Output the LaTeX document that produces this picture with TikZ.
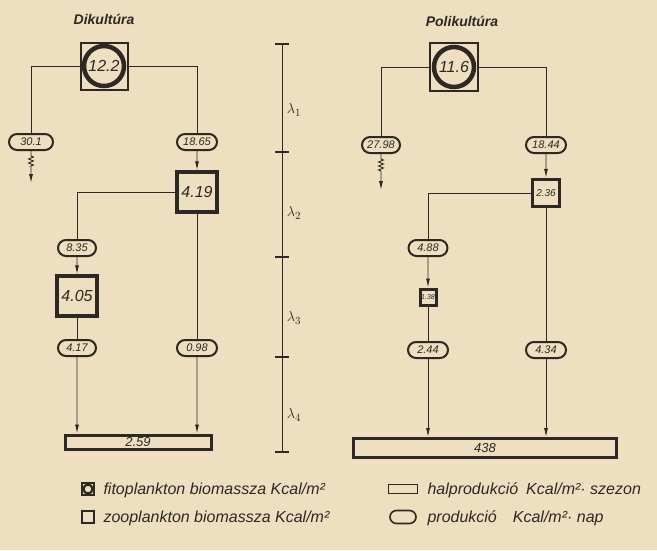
\documentclass[tikz,border=0pt]{standalone}
\usepackage{fontspec}
\setmainfont{Liberation Sans}
\usetikzlibrary{arrows.meta,shapes.misc,decorations.pathmorphing}
\definecolor{paper}{RGB}{237,223,191}
\definecolor{ink}{RGB}{45,40,36}

\begin{document}
\begin{tikzpicture}[x=1pt,y=-1pt,ink,font=\itshape,
	fitobox/.style={draw,line width=2pt,minimum size=#1,inner sep=0pt},
	fitocirc/.style={draw,circle,line width=4.5pt,minimum size=#1,inner sep=0pt,font=\itshape\fontsize{16}{16}\selectfont},
	zoobox/.style={draw,line width=3.5pt,minimum size=#1,inner sep=0pt,font=\itshape\fontsize{16}{16}\selectfont},
	halbox/.style={draw,line width=3pt,minimum width=#1,inner sep=0pt,font=\itshape\fontsize{13}{13}\selectfont},
	prod/.style={draw,rounded rectangle,line width=2pt,minimum width=#1,minimum height=16pt,inner sep=0pt,font=\itshape\fontsize{11}{11}\selectfont},
	flow/.style={line width=0.9pt},
	arr/.style={flow,-{Latex[length=9pt,width=4pt]}},
	loss/.style={arr,decoration={zigzag,segment length=4pt,amplitude=2.5pt}},
	legtext/.style={anchor=west,font=\itshape\fontsize{16}{16}\selectfont}]

	\fill[paper] (0,0) rectangle (657,550);

	%Dikultura
	\node[font=\itshape\bfseries\fontsize{14}{14}\selectfont] (t1) at (104,19) {Dikultúra};
	\node[fitobox=47pt] (f1) at (104,66) {};
	\node[fitocirc=40pt] (f1c) at (f1) {12.2};
	\node[prod=44pt] (p301) at (31,142) {30.1};
	\node[prod=40pt] (p1865) at (197,142) {18.65};
	\node[zoobox=40pt] (z419) at (197,192) {4.19};
	\node[prod=38pt] (p835) at (77,248) {8.35};
	\node[zoobox=40pt] (z405) at (77,296) {4.05};
	\node[prod=38pt] (p417) at (77,348) {4.17};
	\node[prod=40pt] (p098) at (197,348) {0.98};
	\node[halbox=146pt,minimum height=14pt] (h259) at (138,442) {2.59};
	\coordinate (l1) at (31,183);

	\draw[flow] (f1.west) -| (p301.north);
	\draw[loss] (p301.south) -- ++(0,5) decorate{-- ++(0,10)} -- (l1);
	\draw[flow] (f1.east) -| (p1865.north);
	\draw[arr] (p1865) -- (z419);
	\draw[flow] (z419.west) -| (p835.north);
	\draw[arr] (p835) -- (z405);
	\draw[flow] (z405) -- (p417);
	\draw[arr] (p417) -- (h259.north -| p417);
	\draw[flow] (z419) -- (p098);
	\draw[arr] (p098) -- (h259.north -| p098);

	%lambda scale
	\draw[flow] (282,44) -- (282,452);
	\foreach \y in {44,152,257,357,452}
		\draw[line width=1.2pt] (275,\y) -- (289,\y);
	\foreach \y/\i in {110/1,213/2,318/3,415/4}
		\node[font=\fontsize{15}{15}\selectfont] (lam\i) at (294,\y) {$\lambda_{\i}$};

	%Polikultura
	\node[font=\itshape\bfseries\fontsize{14}{14}\selectfont] (t2) at (462,21) {Polikultúra};
	\node[fitobox=48pt] (f2) at (454,67) {};
	\node[fitocirc=40pt] (f2c) at (f2) {11.6};
	\node[prod=38pt] (p2798) at (381,145) {27.98};
	\node[prod=40pt] (p1844) at (546,145) {18.44};
	\node[zoobox=27pt,font=\itshape\fontsize{10}{10}\selectfont] (z236) at (546,193) {2.36};
	\node[prod=39pt] (p488) at (428,248) {4.88};
	\node[zoobox=16pt,line width=3pt,font=\itshape\fontsize{7}{7}\selectfont] (z138) at (428,297) {1.38};
	\node[prod=40pt] (p244) at (428,350) {2.44};
	\node[prod=40pt] (p434) at (546,350) {4.34};
	\node[halbox=263pt,minimum height=19pt] (h438) at (485,448) {438};
	\coordinate (l2) at (381,190);

	\draw[flow] (f2.west) -| (p2798.north);
	\draw[loss] (p2798.south) -- ++(0,5) decorate{-- ++(0,12)} -- (l2);
	\draw[flow] (f2.east) -| (p1844.north);
	\draw[arr] (p1844) -- (z236);
	\draw[flow] (z236.west) -| (p488.north);
	\draw[arr] (p488) -- (z138);
	\draw[flow] (z138) -- (p244);
	\draw[arr] (p244) -- (h438.north -| p244);
	\draw[flow] (z236) -- (p434);
	\draw[arr] (p434) -- (h438.north -| p434);

	%legend
	\node[fitobox=12pt,line width=1.2pt] (k1) at (88,489) {};
	\node[draw,circle,line width=2.2pt,minimum size=9pt,inner sep=0pt] (k1c) at (k1) {};
	\node[legtext] (k1t) at (100,490) {fitoplankton biomassza Kcal/m²};
	\node[draw,line width=1.6pt,minimum size=12pt,inner sep=0pt] (k2) at (88,517) {};
	\node[legtext] (k2t) at (100,518) {zooplankton biomassza Kcal/m²};
	\node[draw,line width=1.6pt,minimum width=29pt,minimum height=9pt,inner sep=0pt] (k3) at (403,489) {};
	\node[legtext] (k3t) at (424,490) {halprodukció\enspace Kcal/m²· szezon};
	\node[draw,rounded rectangle,line width=1.6pt,minimum width=26pt,minimum height=13pt,inner sep=0pt] (k4) at (403,517) {};
	\node[legtext] (k4t) at (424,518) {produkció\enspace\enspace Kcal/m²· nap};
\end{tikzpicture}
\end{document}
